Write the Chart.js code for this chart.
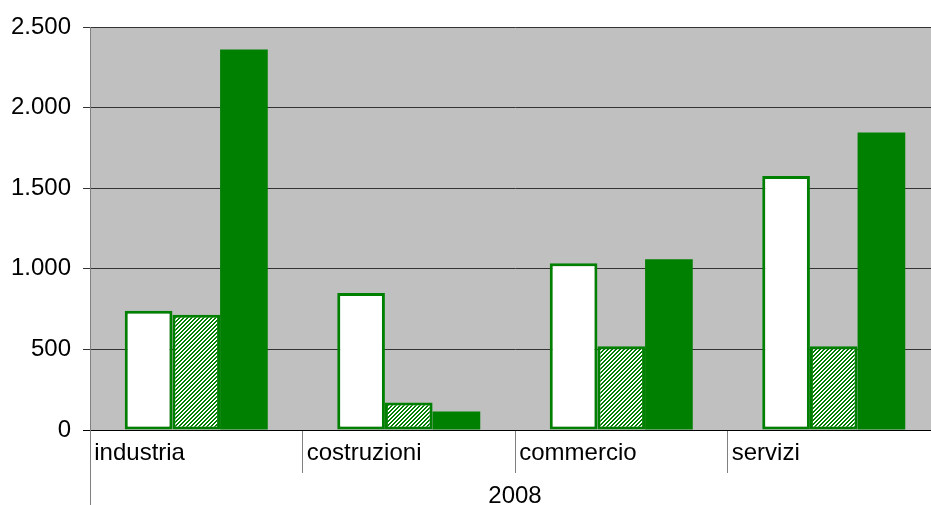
<!DOCTYPE html>
<html>
<head>
<meta charset="utf-8">
<script src="https://cdn.jsdelivr.net/npm/chart.js@4.4.0/dist/chart.umd.min.js"></script>
<style>
  html, body { margin: 0; padding: 0; background: #fff; overflow: hidden; }
  #wrap { width: 945px; height: 505px; }
</style>
</head>
<body>
<div id="wrap"><canvas id="chart-bar" width="945" height="505"></canvas></div>
<script>
const CATEGORIES = ["industria", "costruzioni", "commercio", "servizi"];
const YEAR_LABEL = "2008";
const SERIES_WHITE = [740, 850, 1035, 1575];
const SERIES_HATCHED = [715, 170, 520, 520];
const SERIES_SOLID = [2360, 115, 1060, 1845];
const Y_MIN = 0;
const Y_MAX = 2500;
const Y_STEP = 500;

const GREEN = "#008000";
const FONT = { family: "'Liberation Sans', Arial, sans-serif", size: 24 };

// tratteggio diagonale verde/bianco per la seconda serie
function createHatchPattern(ctx) {
  const tile = document.createElement("canvas");
  tile.width = 4;
  tile.height = 4;
  const tctx = tile.getContext("2d");
  const img = tctx.createImageData(4, 4);
  for (let y = 0; y < 4; y++) {
    for (let x = 0; x < 4; x++) {
      const i = (y * 4 + x) * 4;
      const green = (x + y) % 4 < 2;
      img.data[i] = green ? 0 : 255;
      img.data[i + 1] = green ? 128 : 255;
      img.data[i + 2] = green ? 0 : 255;
      img.data[i + 3] = 255;
    }
  }
  tctx.putImageData(img, 0, 0);
  return ctx.createPattern(tile, "repeat");
}

// 2500 -> "2.500"
function formatThousands(value) {
  return String(value).replace(/\B(?=(\d{3})+(?!\d))/g, ".");
}

// sfondo grigio dell'area del grafico
const plotBackgroundPlugin = {
  id: "plotBackground",
  beforeDraw(chart) {
    const { ctx, chartArea } = chart;
    ctx.save();
    ctx.fillStyle = "#C0C0C0";
    ctx.fillRect(chartArea.left, chartArea.top, chartArea.right - chartArea.left, chartArea.bottom - chartArea.top);
    ctx.restore();
  },
};

// prolunga l'asse verticale fino in fondo, sotto l'etichetta dell'anno
const axisExtensionPlugin = {
  id: "axisExtension",
  afterDraw(chart) {
    const { ctx, chartArea } = chart;
    const x = Math.round(chartArea.left) + 0.5;
    ctx.save();
    ctx.strokeStyle = "#808080";
    ctx.lineWidth = 1;
    ctx.beginPath();
    ctx.moveTo(x, chartArea.bottom);
    ctx.lineTo(x, chart.height);
    ctx.stroke();
    ctx.restore();
  },
};

const canvas = document.getElementById("chart-bar");
const ctx = canvas.getContext("2d");
const hatch = createHatchPattern(ctx);

new Chart(ctx, {
  type: "bar",
  data: {
    labels: CATEGORIES,
    datasets: [
      { data: SERIES_WHITE, backgroundColor: "#FFFFFF" },
      { data: SERIES_HATCHED, backgroundColor: hatch },
      { data: SERIES_SOLID, backgroundColor: GREEN, borderWidth: 0 },
    ],
  },
  plugins: [plotBackgroundPlugin, axisExtensionPlugin],
  options: {
    responsive: false,
    animation: false,
    layout: { padding: { top: 27, right: 5, left: 0, bottom: 0 } },
    datasets: {
      bar: {
        borderColor: GREEN,
        borderWidth: 3,
        borderSkipped: false,
        categoryPercentage: 0.673,
        barPercentage: 1.0,
      },
    },
    scales: {
      x: {
        offset: true,
        grid: {
          offset: true,
          drawOnChartArea: false,
          drawTicks: true,
          tickLength: 43,
          color: "#808080",
        },
        border: { display: true, color: "#000000", width: 1 },
        ticks: {
          align: "start",
          labelOffset: -102,
          padding: -34,
          font: FONT,
          color: "#000000",
        },
        title: {
          display: true,
          text: YEAR_LABEL,
          font: FONT,
          color: "#000000",
          padding: { top: 0, bottom: -6 },
        },
        afterFit: (scale) => {
          scale.height = 75;
        },
      },
      y: {
        min: Y_MIN,
        max: Y_MAX,
        ticks: {
          stepSize: Y_STEP,
          padding: 12,
          font: FONT,
          color: "#000000",
          callback: (value) => formatThousands(value),
        },
        grid: {
          color: (context) => (context.tick && context.tick.value === 0 ? "#000000" : "#333333"),
          tickLength: 7,
        },
        border: { color: "#808080" },
        afterFit: (scale) => {
          scale.width = 90;
        },
      },
    },
    plugins: {
      legend: { display: false },
      tooltip: { enabled: false },
    },
  },
});
</script>
</body>
</html>
